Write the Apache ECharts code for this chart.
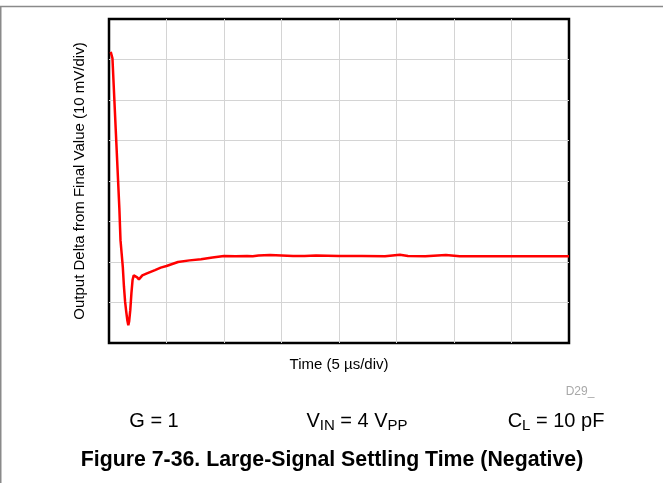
<!DOCTYPE html>
<html>
<head>
<meta charset="utf-8">
<script src="https://cdn.jsdelivr.net/npm/echarts@6/dist/echarts.min.js"></script>
<style>
html,body{margin:0;padding:0;background:#fff;}
#chart{width:663px;height:483px;}
</style>
</head>
<body>
<div id="chart"></div>
<script>
// Time in microseconds (5 µs/div, 8 divisions)
var timeUs = [0.15, 0.22, 0.3, 0.6, 0.9, 1.0, 1.1, 1.2, 1.3, 1.4, 1.5, 1.6, 1.68, 1.75, 1.85, 1.95, 2.05, 2.15, 2.3, 2.45, 2.6, 2.75, 2.9, 3.3, 4.0, 4.5, 5.0, 5.5, 6.0, 7.0, 8.0, 9.0, 10.0, 11.0, 12.0, 12.5, 13.0, 14.0, 15.0, 16.0, 17.0, 18.0, 20.0, 22.0, 24.0, 25.3, 26.0, 27.5, 29.3, 30.5, 32.0, 35.0, 38.0, 40.0];
// Output delta from final value in mV (10 mV/div)
var deltaMv = [31.9, 31.6, 30.3, 11.8, -6.7, -14.6, -17.9, -21.2, -26.1, -29.8, -32.3, -34.5, -35.6, -34.7, -31.9, -27.7, -24.4, -23.3, -23.2, -23.8, -24.3, -23.9, -23.3, -22.8, -22.0, -21.4, -21.0, -20.5, -20.0, -19.6, -19.3, -18.9, -18.5, -18.6, -18.5, -18.6, -18.4, -18.3, -18.4, -18.5, -18.5, -18.4, -18.5, -18.5, -18.6, -18.2, -18.5, -18.6, -18.3, -18.6, -18.6, -18.6, -18.6, -18.6];
var xAxisName = 'Time (5 µs/div)';
var yAxisName = 'Output Delta from Final Value (10 mV/div)';
var captionTitle = 'Figure 7-36. Large-Signal Settling Time (Negative)';

var seriesData = timeUs.map(function (t, i) { return [t, deltaMv[i]]; });

var chart = echarts.init(document.getElementById('chart'), null, {renderer: 'canvas'});
var font = '"Liberation Sans", Arial, sans-serif';

chart.setOption({
  backgroundColor: '#ffffff',
  animation: false,
  grid: {
    left: 109, top: 19, width: 460, height: 324,
    show: true, borderColor: '#000000', borderWidth: 2.5, backgroundColor: 'transparent'
  },
  xAxis: {
    type: 'value', min: 0, max: 40, interval: 5,
    name: xAxisName, nameLocation: 'middle', nameGap: 14,
    nameTextStyle: {fontFamily: font, fontSize: 15, color: '#000'},
    axisLine: {show: false}, axisTick: {show: false}, axisLabel: {show: false},
    splitLine: {show: true, showMinLine: false, showMaxLine: false, lineStyle: {color: '#d4d4d4', width: 1}}
  },
  yAxis: {
    type: 'value', min: -40, max: 40, interval: 10,
    name: yAxisName, nameLocation: 'middle', nameGap: 22,
    nameTextStyle: {fontFamily: font, fontSize: 15, color: '#000'},
    axisLine: {show: false}, axisTick: {show: false}, axisLabel: {show: false},
    splitLine: {show: true, showMinLine: false, showMaxLine: false, lineStyle: {color: '#d4d4d4', width: 1}}
  },
  series: [{
    type: 'line', data: seriesData, showSymbol: false, symbol: 'none',
    lineStyle: {color: '#ff0000', width: 2.5}, z: 3
  }],
  graphic: [
    {type: 'polyline', shape: {points: [[0.75, 483], [0.75, 6.5], [663, 6.5]]},
     style: {stroke: '#8a8a8a', lineWidth: 1.5, fill: null}},
    {type: 'text', x: 580, y: 392,
     style: {text: 'D29_', fontFamily: font, fontSize: 12, fill: '#a8a8a8', align: 'center', verticalAlign: 'middle'}},
    {type: 'text', x: 154, y: 421,
     style: {text: 'G = 1', fontFamily: font, fontSize: 20, fill: '#000', align: 'center', verticalAlign: 'middle'}},
    {type: 'text', x: 357, y: 421,
     style: {text: '{n|V}{s|IN}{n| = 4 V}{s|PP}', fontFamily: font, fontSize: 20, fill: '#000', align: 'center', verticalAlign: 'middle',
       rich: {n: {fontFamily: font, fontSize: 20, color: '#000'}, s: {fontFamily: font, fontSize: 15, color: '#000', padding: [10, 0, 0, 0]}}}},
    {type: 'text', x: 556, y: 421,
     style: {text: '{n|C}{s|L}{n| = 10 pF}', fontFamily: font, fontSize: 20, fill: '#000', align: 'center', verticalAlign: 'middle',
       rich: {n: {fontFamily: font, fontSize: 20, color: '#000'}, s: {fontFamily: font, fontSize: 15, color: '#000', padding: [10, 0, 0, 0]}}}},
    {type: 'text', x: 332, y: 460,
     style: {text: captionTitle, fontFamily: font, fontSize: 21.3, fontWeight: 'bold', fill: '#000', align: 'center', verticalAlign: 'middle'}}
  ]
});
</script>
</body>
</html>
